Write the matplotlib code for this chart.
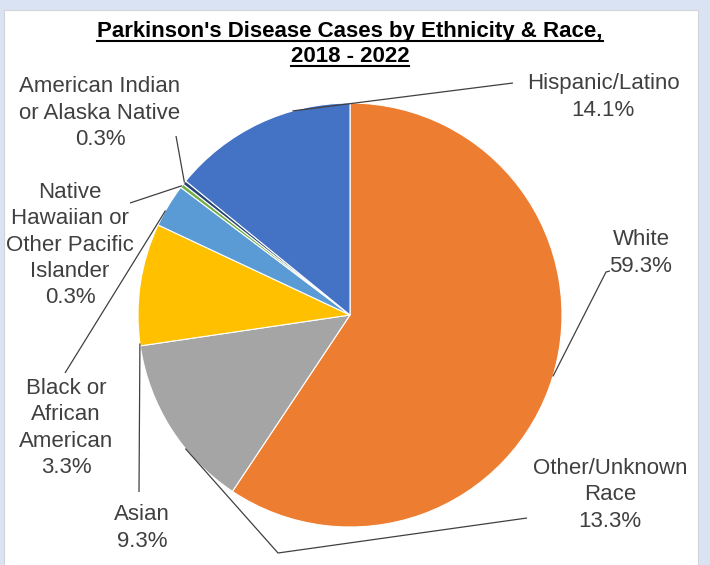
import matplotlib
matplotlib.use('Agg')
import matplotlib.pyplot as plt
import numpy as np
from matplotlib.patches import Rectangle
from matplotlib.lines import Line2D

# ---------------- data ----------------
categories = ['White', 'Other/Unknown Race', 'Asian', 'Black or African American',
              'Native Hawaiian or Other Pacific Islander',
              'American Indian or Alaska Native', 'Hispanic/Latino']
values = [59.3, 13.3, 9.3, 3.3, 0.3, 0.3, 14.1]
label_text = ['White', 'Other/Unknown\nRace', 'Asian', 'Black or\nAfrican\nAmerican',
              'Native\nHawaiian or\nOther Pacific\nIslander',
              'American Indian\nor Alaska Native', 'Hispanic/Latino']
colors = ['#ED7D31', '#A5A5A5', '#FFC000', '#5B9BD5', '#70AD47', '#264478', '#4472C4']
title_lines = ["Parkinson's Disease Cases by Ethnicity & Race,", "2018 - 2022"]

# ---------------- layout ----------------
W, H = 710, 565
CX, CY, R = 350, 315, 212          # pie centre / radius in pixels
label_pos = [(641, 253), (610, 495), (142, 528), (66, 428), (70, 245), (100, 113), (603, 97)]
anchor_frac = [0.5, 0.64, 0.98, 0.63, 0.5, 0.5, 0.31]
leader_pts = [[(606, 272), (610, 271)], [(278, 553), (527, 518)], [(139, 492)],
              [(65, 373)], [(130, 203)], [(176, 136)], [(513, 83)]]
title_baselines = [37, 62]

plt.rcParams['font.family'] = ['Liberation Sans', 'DejaVu Sans']

fig = plt.figure(figsize=(W / 100, H / 100), dpi=100)
fig.patch.set_facecolor('#D9E3F3')
ax = fig.add_axes([0, 0, 1, 1])
ax.patch.set_alpha(0)


def px(x, y):
    return ((x - CX) / R, (CY - y) / R)


# white inner panel
bx0, by0 = px(4, H + 5)
bx1, by1 = px(698, 10)
ax.add_patch(Rectangle((bx0, by0), bx1 - bx0, by1 - by0, facecolor='white',
                       edgecolor='#D4D4D4', linewidth=0.8, zorder=-5, clip_on=False))

wedges, _ = ax.pie(values, colors=colors, startangle=90, counterclock=False,
                   radius=1, center=(0, 0),
                   wedgeprops=dict(edgecolor='white', linewidth=0.8))
ax.set_xlim(-CX / R, (W - CX) / R)
ax.set_ylim((CY - H) / R, CY / R)
ax.set_aspect('equal')
ax.axis('off')

lc = '#404040'
for w, v, txt, pos, f, pts in zip(wedges, values, label_text, label_pos, anchor_frac, leader_pts):
    ang = np.deg2rad(w.theta1 + f * (w.theta2 - w.theta1))
    ax_x, ax_y = np.cos(ang), np.sin(ang)
    path = [(ax_x, ax_y)] + [px(*p) for p in pts]
    xs, ys = zip(*path)
    ax.plot(xs, ys, color=lc, lw=0.9, solid_capstyle='butt', zorder=3)
    tx, ty = px(*pos)
    ax.text(tx, ty, f"{txt}\n{v:.1f}%", ha='center', va='center', fontsize=16,
            color=lc, linespacing=1.33, zorder=4)

title_artists = []
for line, yb in zip(title_lines, title_baselines):
    t = fig.text(CX / W, 1 - yb / H, line, ha='center', va='baseline',
                 fontsize=16, fontweight='bold', color='black')
    title_artists.append((t, yb))

fig.canvas.draw()
rend = fig.canvas.get_renderer()
for t, yb in title_artists:
    bb = t.get_window_extent(rend)
    yu = 1 - (yb + 4) / H
    fig.add_artist(Line2D([bb.x0 / W, bb.x1 / W], [yu, yu], transform=fig.transFigure,
                          color='black', lw=1.5))

fig.savefig('out.png', dpi=100, facecolor=fig.get_facecolor())
